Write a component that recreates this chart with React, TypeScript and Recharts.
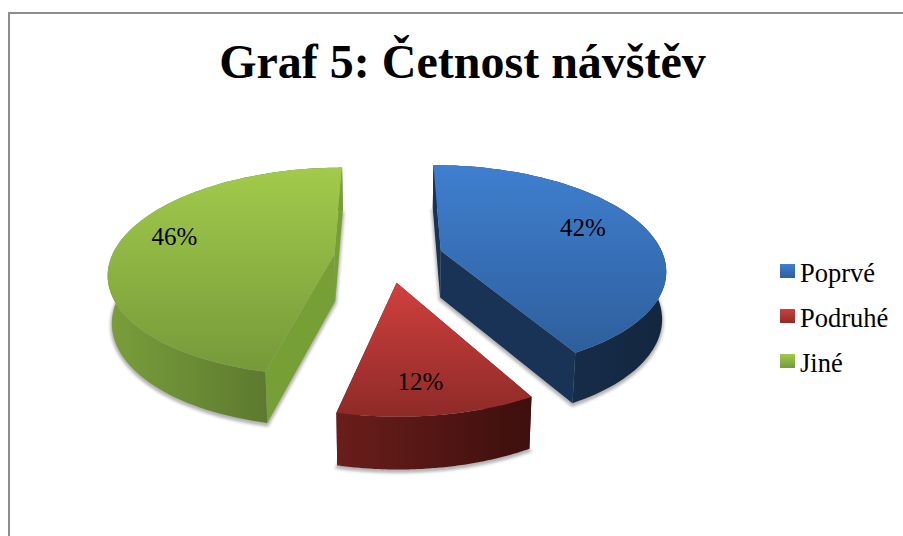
import { PieChart, Pie, Legend } from 'recharts';

const categories = ['Poprvé', 'Podruhé', 'Jiné'];
const shares = [41.9, 11.65, 46.45];
const topStops = [
    ['#3F7FCF', '#2E5F9C'],
    ['#D0403E', '#8E2A27'],
    ['#A2CB4B', '#76993A'],
];
const wallStops = [
    ['#1A3557', '#13263E'],
    ['#6A1E1B', '#3C0F0D'],
    ['#7A9E3B', '#4F6828'],
];
const sideColors = ['#183355', '#6A1E1B', '#76A035'];

const chartData = categories.map((name, i) => ({ name, value: shares[i], fill: `url(#top-${i})` }));

// look of the old 3D pie: tilt and a bit of perspective
const TILT = 0.457;
const PERSPECTIVE = 0.1667;
const EXPLODE = 0.245;
const DEPTH = 47;
const labelReach = [0.72, 0.78, 0.77];
const labelTurn = [5, -2, -7];
const RAD = Math.PI / 180;

function project(cx: number, cy: number, r: number, wx: number, wy: number, bottom = false) {
    const w = 1 / (1 - PERSPECTIVE * wy);
    const x = cx + r * wx * w;
    const y = cy + r * TILT * wy * w;
    if (!bottom) return [x, y];
    return [cx + (x - cx) * 0.985, y + DEPTH * Math.sqrt(w)];
}

const toPath = (pts: number[][]) => 'M' + pts.map((p) => `${p[0].toFixed(1)},${p[1].toFixed(1)}`).join('L') + 'Z';

function Slice3D(props: any) {
    const { cx, cy, outerRadius, startAngle, endAngle, index } = props;
    const i = index ?? categories.indexOf(props.name);
    const mid = (startAngle + endAngle) / 2;
    const ox = Math.cos(mid * RAD) * EXPLODE;
    const oy = -Math.sin(mid * RAD) * EXPLODE;

    const top: number[][] = [];
    const under: number[][] = [];
    const steps = 90;
    for (let s = 0; s <= steps; s++) {
        const a = (startAngle + ((endAngle - startAngle) * s) / steps) * RAD;
        const wx = ox + Math.cos(a);
        const wy = oy - Math.sin(a);
        top.push(project(cx, cy, outerRadius, wx, wy));
        under.push(project(cx, cy, outerRadius, wx, wy, true));
    }
    const apexTop = project(cx, cy, outerRadius, ox, oy);
    const apexUnder = project(cx, cy, outerRadius, ox, oy, true);

    const wall = toPath([...top, ...[...under].reverse()]);
    const startFace = toPath([apexTop, top[0], under[0], apexUnder]);
    const endFace = toPath([apexTop, top[steps], under[steps], apexUnder]);

    // cut faces pointing to the back go over the wall, the front ones under it
    const startIsBack = Math.sin(startAngle * RAD) > 0;
    const endIsBack = Math.sin(endAngle * RAD) > 0;

    return (
        <g>
            <path d={toPath([apexUnder, ...under])} fill="#777" stroke="#777" strokeWidth={3} opacity={0.55} filter="url(#soft)" transform="translate(0,2)" />
            {!startIsBack && <path d={startFace} fill={sideColors[i]} />}
            {!endIsBack && <path d={endFace} fill={sideColors[i]} />}
            <path d={wall} fill={`url(#wall-${i})`} />
            {startIsBack && <path d={startFace} fill={sideColors[i]} />}
            {endIsBack && <path d={endFace} fill={sideColors[i]} />}
            <path d={toPath([apexTop, ...top])} fill={`url(#top-${i})`} />
        </g>
    );
}

function SliceLabel(props: any) {
    const { cx, cy, outerRadius, midAngle, percent, index } = props;
    const ox = Math.cos(midAngle * RAD) * EXPLODE;
    const oy = -Math.sin(midAngle * RAD) * EXPLODE;
    const a = (midAngle + labelTurn[index]) * RAD;
    const reach = labelReach[index];
    const [x, y] = project(cx, cy, outerRadius, ox + Math.cos(a) * reach, oy - Math.sin(a) * reach);
    return (
        <text x={x} y={y} textAnchor="middle" dominantBaseline="central" fontFamily="Liberation Serif" fontSize={25} fill="#000">
            {Math.round(percent * 100)}%
        </text>
    );
}

function LegendList() {
    return (
        <div style={{ fontFamily: 'Liberation Serif', fontSize: 26.5, color: '#000' }}>
            {categories.map((name, i) => (
                <div key={name} style={{ display: 'flex', alignItems: 'center', height: 45 }}>
                    <span
                        style={{
                            display: 'inline-block',
                            width: 15,
                            height: 14,
                            marginRight: 5,
                            marginTop: -6,
                            background: `linear-gradient(${topStops[i][0]}, ${topStops[i][1]})`,
                        }}
                    />
                    {name}
                </div>
            ))}
        </div>
    );
}

export default function App() {
    return (
        <div style={{ position: 'absolute', left: 0, top: 0, width: 903, height: 536, overflow: 'hidden', background: '#fff' }}>
            <div style={{ position: 'absolute', left: 8, top: 12, width: 940, height: 600, border: '2px solid #8c8c8c' }} />
            <PieChart width={903} height={536} style={{ position: 'absolute', left: 0, top: 0 }}>
                <defs>
                    {categories.map((_, i) => (
                        <linearGradient key={`t${i}`} id={`top-${i}`} x1="0" y1="0" x2="0" y2="1">
                            <stop offset="0%" stopColor={topStops[i][0]} />
                            <stop offset="100%" stopColor={topStops[i][1]} />
                        </linearGradient>
                    ))}
                    {categories.map((_, i) => (
                        <linearGradient key={`w${i}`} id={`wall-${i}`} x1="0" y1="0" x2="1" y2="0">
                            <stop offset="0%" stopColor={wallStops[i][0]} />
                            <stop offset="100%" stopColor={wallStops[i][1]} />
                        </linearGradient>
                    ))}
                    <filter id="soft" x="-10%" y="-10%" width="120%" height="120%">
                        <feGaussianBlur stdDeviation="1.5" />
                    </filter>
                </defs>
                <text x={462.5} y={78} textAnchor="middle" fontFamily="Liberation Serif" fontWeight="bold" fontSize={48} fill="#000">
                    Graf 5: Četnost návštěv
                </text>
                <Pie
                    data={chartData}
                    dataKey="value"
                    nameKey="name"
                    cx={383.5}
                    cy={252}
                    outerRadius={223}
                    startAngle={90}
                    endAngle={-270}
                    paddingAngle={0}
                    stroke="none"
                    shape={Slice3D}
                    inactiveShape={Slice3D}
                    label={SliceLabel}
                    labelLine={false}
                    isAnimationActive={false}
                />
                <Legend
                    layout="vertical"
                    content={LegendList}
                    wrapperStyle={{ position: 'absolute', left: 780, top: 251, width: 123, bottom: 'auto' }}
                />
            </PieChart>
        </div>
    );
}
